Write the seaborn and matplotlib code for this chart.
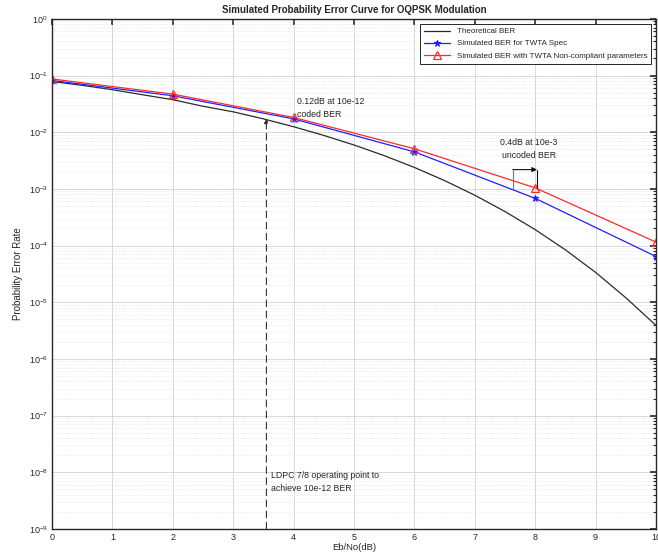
import numpy as np
import pandas as pd
import matplotlib
matplotlib.use("Agg")
import matplotlib.pyplot as plt
import matplotlib.ticker as mticker
import seaborn as sns

# ---- data ----
theo_ebno = [0, 0.5, 1, 1.5, 2, 2.5, 3, 3.5, 4, 4.5, 5, 5.5, 6, 6.5, 7, 7.5, 8, 8.5, 9, 9.5, 10]
theo_ber = [7.86e-2, 6.71e-2, 5.63e-2, 4.58e-2, 3.75e-2, 2.87e-2, 2.29e-2, 1.72e-2, 1.25e-2,
            8.78e-3, 5.95e-3, 3.86e-3, 2.39e-3, 1.40e-3, 7.73e-4, 3.98e-4, 1.91e-4, 8.4e-5,
            3.36e-5, 1.2e-5, 3.9e-6]
sim_ebno = [0, 2, 4, 6, 8, 10]
sim_spec_ber = [0.082, 0.044, 0.0172, 0.0045, 0.00068, 6.4e-5]
sim_nc_ber = [0.087, 0.047, 0.0182, 0.0051, 0.00104, 1.15e-4]
x_ticks = [0, 1, 2, 3, 4, 5, 6, 7, 8, 9, 10]
y_decades = [-9, -8, -7, -6, -5, -4, -3, -2, -1, 0]

labels = ["Theoretical BER", "Simulated BER for TWTA Spec",
          "Simulated BER with TWTA Non-compliant parameters"]

sns.set_style("white")
plt.rcParams["font.family"] = ["Liberation Sans", "DejaVu Sans"]

fig = plt.figure(figsize=(6.58, 5.55), dpi=100)
ax = fig.add_axes([0.079, 0.047, 0.918, 0.919])

df_t = pd.DataFrame({"x": theo_ebno, "y": theo_ber})
df_s = pd.DataFrame({"x": sim_ebno, "y": sim_spec_ber})
df_n = pd.DataFrame({"x": sim_ebno, "y": sim_nc_ber})

sns.lineplot(data=df_t, x="x", y="y", ax=ax, color="#2b2b2b", lw=0.9, label=labels[0])
sns.lineplot(data=df_s, x="x", y="y", ax=ax, color="#1f1fff", lw=0.9, marker="*",
             markersize=5, markeredgecolor="#1f1fff", label=labels[1])
sns.lineplot(data=df_n, x="x", y="y", ax=ax, color="#ff2a2a", lw=0.9, marker="^",
             markersize=6, markerfacecolor="none", markeredgecolor="#ff2a2a",
             markeredgewidth=0.9, label=labels[2])

ax.set_yscale("log")
ax.set_xlim(0, 10)
ax.set_ylim(1e-9, 1)
ax.set_xticks(x_ticks)
major = [10.0 ** d for d in y_decades]
minor = [m * 10.0 ** d for d in y_decades[:-1] for m in range(2, 10)]
ax.yaxis.set_major_locator(mticker.FixedLocator(major))
ax.yaxis.set_major_formatter(mticker.LogFormatterSciNotation(base=10))
ax.yaxis.set_minor_locator(mticker.FixedLocator(minor))
ax.yaxis.set_minor_formatter(mticker.NullFormatter())

ax.grid(True, which="major", color="#d8d8d8", lw=0.7, ls="-")
ax.grid(True, which="minor", axis="y", color="#dadada", lw=0.5, ls=(0, (1, 2)))
ax.set_axisbelow(True)

for s in ax.spines.values():
    s.set_color("#262626")
    s.set_linewidth(1.0)
ax.tick_params(which="both", direction="in", top=True, right=True, colors="#262626",
               labelsize=6.5)
ax.tick_params(which="major", length=4, width=1.2, pad=3)
ax.tick_params(which="minor", length=2.5, width=0.8)

ax.set_xlabel("Eb/No(dB)", fontsize=6.8, va="center")
ax.xaxis.set_label_coords(0.5, -0.036)
ax.set_ylabel("Probability Error Rate", fontsize=7, labelpad=4)
ax.set_title("Simulated Probability Error Curve for OQPSK Modulation", fontsize=7,
             fontweight="bold", pad=4)

leg = ax.legend(loc="upper right", fontsize=5.8, frameon=True, fancybox=False,
                edgecolor="#262626", framealpha=1, borderaxespad=0.6, handlelength=3.2,
                labelspacing=0.55, borderpad=0.5)
leg.get_frame().set_linewidth(0.7)

# annotations
ax.annotate("", xy=(3.55, 1.75e-2), xytext=(3.55, 1e-9),
            arrowprops=dict(arrowstyle="-|>", color="#333333", lw=0.8, ls=(0, (6, 4)),
                            mutation_scale=7, shrinkA=0, shrinkB=0))
ax.text(4.05, 10**-1.57, "0.12dB at 10e-12\ncoded BER", fontsize=6.3, ha="left",
        va="center", linespacing=1.5)
ax.text(3.62, 10**-8.17, "LDPC 7/8 operating point to\nachieve 10e-12 BER", fontsize=6.3,
        ha="left", va="center", linespacing=1.5)
ax.text(7.9, 10**-2.3, "0.4dB at 10e-3\nuncoded BER", fontsize=6.3, ha="center",
        va="center", linespacing=1.5)
ax.plot([7.63, 7.63], [10**-3.0, 10**-2.66], color="#777777", lw=0.8)
ax.annotate("", xy=(8.03, 10**-2.66), xytext=(7.63, 10**-2.66),
            arrowprops=dict(arrowstyle="-|>", color="#111111", lw=0.8, mutation_scale=7,
                            shrinkA=0, shrinkB=0))
ax.plot([8.03, 8.03], [10**-2.66, 10**-2.98], color="#111111", lw=0.8)

fig.savefig("out.png", dpi=100)
